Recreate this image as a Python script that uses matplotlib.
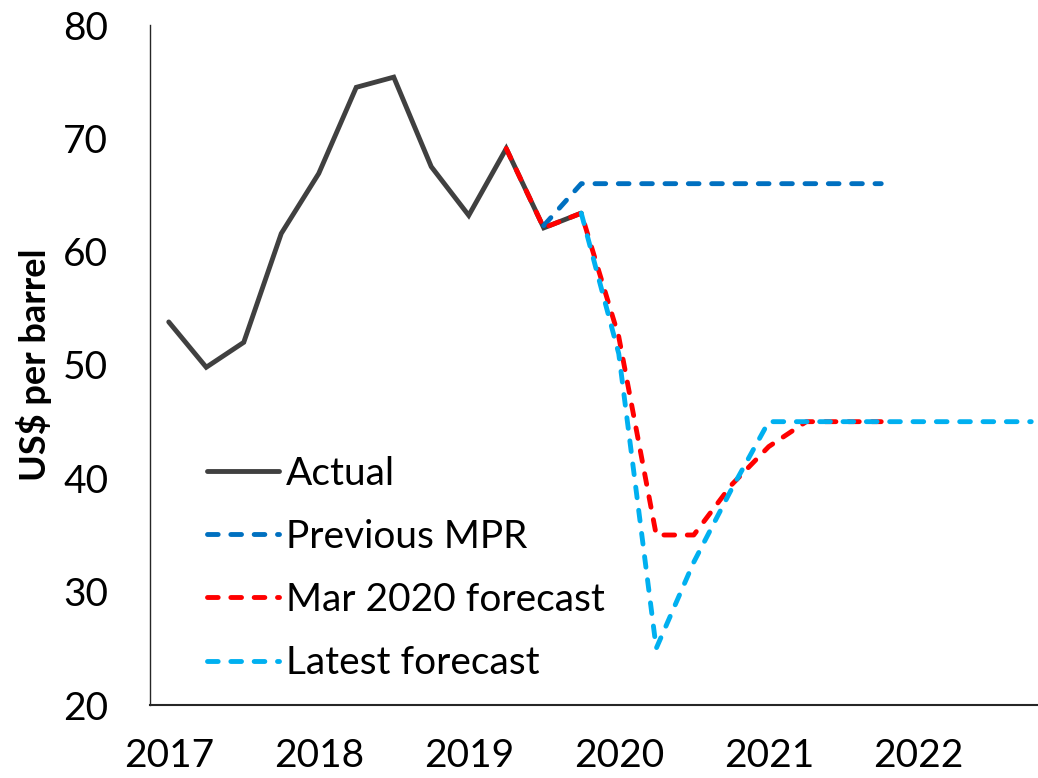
import matplotlib
matplotlib.use("Agg")
import matplotlib.pyplot as plt
import numpy as np

nan = np.nan

# quarters 2017Q1 .. 2022Q4
years = ["2017", "2018", "2019", "2020", "2021", "2022"]
n_q = 24

actual = [53.8, 49.8, 52.0, 61.6, 66.9, 74.5, 75.4, 67.5, 63.2, 69.1, 62.1, 63.4] + [nan] * 12
previous_mpr = [nan] * 10 + [62.3] + [66.0] * 9 + [nan] * 4
mar2020 = [nan] * 9 + [69.1, 62.1, 63.4, 52.5, 35.0, 35.0, 39.4, 42.8, 45.0, 45.0, 45.0] + [nan] * 4
latest = [nan] * 11 + [63.4, 51.0, 25.0, 32.6, 39.0, 45.0] + [45.0] * 7

labels = ["Actual", "Previous MPR", "Mar 2020 forecast", "Latest forecast"]

fig = plt.figure(figsize=(10.38, 7.78), dpi=100)
ax = fig.add_axes([150 / 1038, 1 - 705 / 778, 900 / 1038, 680 / 778])

x = np.arange(n_q)
lw = 3.5
dash = (2.2, 2.6)
ax.plot(x, actual, color="#404040", lw=lw, solid_joinstyle="miter",
        solid_capstyle="round", label=labels[0])
ax.plot(x, previous_mpr, color="#0070C0", lw=lw, dashes=dash,
        dash_capstyle="round", label=labels[1])
ax.plot(x, mar2020, color="#FF0000", lw=lw, dashes=dash,
        dash_capstyle="round", label=labels[2])
ax.plot(x, latest, color="#00B0F0", lw=lw, dashes=dash,
        dash_capstyle="round", label=labels[3])

ax.set_xlim(-0.5, n_q - 0.5)
ax.set_ylim(20, 80)
ax.set_yticks(range(20, 81, 10))
ax.set_xticks(np.arange(0, n_q, 4))
ax.set_xticklabels(years, fontsize=28, family="Lato")
for t in ax.get_yticklabels():
    t.set_fontsize(28)
    t.set_family("Lato")
ax.tick_params(axis="y", length=0, pad=30)
ax.tick_params(axis="x", length=0, pad=24)

for s in ["top", "right"]:
    ax.spines[s].set_visible(False)
ax.spines["left"].set_color("#262626")
ax.spines["left"].set_linewidth(1.0)
ax.spines["bottom"].set_color("#262626")
ax.spines["bottom"].set_linewidth(1.5)

ax.set_ylabel("US$ per barrel", fontsize=26, fontweight="bold", family="Lato")
ax.yaxis.set_label_coords(-0.109, 0.5)

leg = ax.legend(loc="lower left", bbox_to_anchor=(0.063, 0.035), frameon=False,
                prop={"family": "Lato", "size": 28}, handlelength=1.85,
                handletextpad=0.18, labelspacing=0.70, borderpad=0, borderaxespad=0)

fig.savefig("out.png", dpi=100)
